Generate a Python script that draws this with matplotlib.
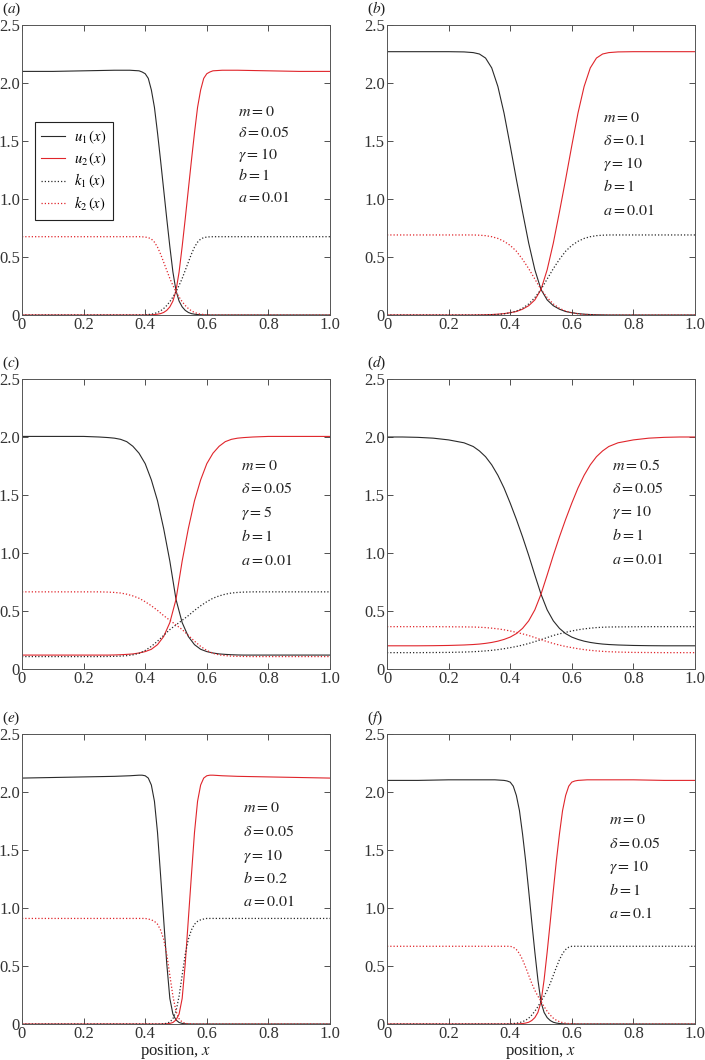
import matplotlib
matplotlib.use("Agg")
import matplotlib.pyplot as plt

plt.rcParams['font.family'] = ['Liberation Serif', 'DejaVu Serif']
plt.rcParams['mathtext.fontset'] = 'stix'

# x grids (steep panels a, e, f and gentle panels b, c, d)
xs = [0, 0.1, 0.2, 0.3, 0.35, 0.38, 0.39, 0.40, 0.41, 0.42, 0.43, 0.44, 0.45, 0.46, 0.47, 0.48,
      0.49, 0.50, 0.51, 0.52, 0.53, 0.54, 0.55, 0.56, 0.57, 0.58, 0.59, 0.60, 0.61, 0.62, 0.65,
      0.7, 0.8, 0.9, 1.0]
xg = [0, 0.05, 0.1, 0.15, 0.2, 0.25, 0.28, 0.30, 0.32, 0.34, 0.36, 0.38, 0.40, 0.42, 0.44, 0.46,
      0.48, 0.50, 0.52, 0.54, 0.56, 0.58, 0.60, 0.62, 0.64, 0.66, 0.68, 0.70, 0.72, 0.75, 0.8,
      0.85, 0.9, 0.95, 1.0]

# panel (a)
u1_a = [2.10, 2.10, 2.105, 2.11, 2.11, 2.105, 2.095, 2.08, 2.04, 1.94, 1.79, 1.57, 1.33, 1.08,
        0.83, 0.59, 0.37, 0.21, 0.12, 0.07, 0.04, 0.022, 0.012, 0.007, 0.004, 0.002, 0.001,
        0, 0, 0, 0, 0, 0, 0, 0]
u2_a = [0, 0, 0, 0, 0, 0, 0, 0, 0.001, 0.002, 0.004, 0.007, 0.012, 0.022, 0.04, 0.07, 0.12,
        0.21, 0.37, 0.59, 0.83, 1.08, 1.33, 1.57, 1.79, 1.94, 2.04, 2.08, 2.095, 2.105, 2.11,
        2.11, 2.105, 2.10, 2.10]
k1_a = [0, 0, 0, 0, 0, 0, 0.001, 0.002, 0.004, 0.007, 0.013, 0.022, 0.036, 0.056, 0.082, 0.115,
        0.155, 0.20, 0.255, 0.315, 0.385, 0.455, 0.525, 0.585, 0.628, 0.655, 0.667, 0.672,
        0.674, 0.675, 0.675, 0.675, 0.675, 0.675, 0.675]
k2_a = [0.675, 0.675, 0.675, 0.675, 0.675, 0.675, 0.674, 0.672, 0.667, 0.655, 0.628, 0.585,
        0.525, 0.455, 0.385, 0.315, 0.255, 0.20, 0.155, 0.115, 0.082, 0.056, 0.036, 0.022,
        0.013, 0.007, 0.004, 0.002, 0.001, 0, 0, 0, 0, 0, 0]

# panel (b)
u1_b = [2.27, 2.27, 2.27, 2.27, 2.27, 2.268, 2.262, 2.25, 2.215, 2.13, 1.97, 1.74, 1.46, 1.17,
        0.89, 0.62, 0.39, 0.22, 0.13, 0.08, 0.05, 0.03, 0.02, 0.012, 0.007, 0.004, 0.002,
        0.001, 0, 0, 0, 0, 0, 0, 0]
u2_b = [0, 0, 0, 0, 0, 0, 0, 0.001, 0.002, 0.004, 0.007, 0.012, 0.02, 0.03, 0.05, 0.08, 0.13,
        0.22, 0.39, 0.62, 0.89, 1.17, 1.46, 1.74, 1.97, 2.13, 2.215, 2.25, 2.262, 2.268, 2.27,
        2.27, 2.27, 2.27, 2.27]
k1_b = [0, 0, 0, 0, 0, 0, 0, 0, 0.001, 0.003, 0.005, 0.01, 0.019, 0.034, 0.058, 0.095, 0.15,
        0.22, 0.31, 0.40, 0.48, 0.55, 0.60, 0.635, 0.66, 0.675, 0.684, 0.688, 0.69, 0.69,
        0.69, 0.69, 0.69, 0.69, 0.69]
k2_b = [0.69, 0.69, 0.69, 0.69, 0.69, 0.69, 0.69, 0.688, 0.684, 0.675, 0.66, 0.635, 0.60, 0.55,
        0.48, 0.40, 0.31, 0.22, 0.15, 0.095, 0.058, 0.034, 0.019, 0.01, 0.005, 0.003, 0.001,
        0, 0, 0, 0, 0, 0, 0, 0]

# panel (c)
u1_c = [2.005, 2.005, 2.005, 2.005, 2.005, 2.0, 1.995, 1.99, 1.98, 1.96, 1.92, 1.86, 1.77,
        1.63, 1.45, 1.21, 0.93, 0.60, 0.40, 0.28, 0.21, 0.17, 0.15, 0.138, 0.13, 0.126, 0.123,
        0.121, 0.12, 0.12, 0.12, 0.12, 0.12, 0.12, 0.12]
u2_c = [0.12, 0.12, 0.12, 0.12, 0.12, 0.12, 0.12, 0.121, 0.123, 0.126, 0.13, 0.138, 0.15, 0.17,
        0.21, 0.28, 0.40, 0.60, 0.93, 1.21, 1.45, 1.63, 1.77, 1.86, 1.92, 1.96, 1.98, 1.99,
        1.995, 2.0, 2.005, 2.005, 2.005, 2.005, 2.005]
k1_c = [0.107, 0.107, 0.107, 0.107, 0.107, 0.107, 0.108, 0.109, 0.111, 0.115, 0.122, 0.135,
        0.16, 0.195, 0.24, 0.29, 0.34, 0.38, 0.42, 0.46, 0.505, 0.545, 0.58, 0.61, 0.63,
        0.645, 0.655, 0.66, 0.663, 0.665, 0.665, 0.665, 0.665, 0.665, 0.665]
k2_c = [0.665, 0.665, 0.665, 0.665, 0.665, 0.665, 0.663, 0.66, 0.655, 0.645, 0.63, 0.61, 0.58,
        0.545, 0.505, 0.46, 0.42, 0.38, 0.34, 0.29, 0.24, 0.195, 0.16, 0.135, 0.122, 0.115,
        0.111, 0.109, 0.108, 0.107, 0.107, 0.107, 0.107, 0.107, 0.107]

# panel (d)
u1_d = [2.0, 2.0, 1.997, 1.99, 1.975, 1.95, 1.918, 1.88, 1.83, 1.76, 1.67, 1.56, 1.43, 1.29,
        1.14, 0.98, 0.81, 0.645, 0.51, 0.415, 0.35, 0.305, 0.275, 0.255, 0.24, 0.229, 0.221,
        0.215, 0.211, 0.207, 0.203, 0.201, 0.2, 0.2, 0.2]
u2_d = [0.2, 0.2, 0.2, 0.201, 0.203, 0.207, 0.211, 0.215, 0.221, 0.229, 0.24, 0.255, 0.275,
        0.305, 0.35, 0.415, 0.51, 0.645, 0.81, 0.98, 1.14, 1.29, 1.43, 1.56, 1.67, 1.76, 1.83,
        1.88, 1.918, 1.95, 1.975, 1.99, 1.997, 2.0, 2.0]
k1_d = [0.141, 0.141, 0.141, 0.142, 0.143, 0.146, 0.149, 0.152, 0.156, 0.161, 0.167, 0.175,
        0.184, 0.194, 0.206, 0.22, 0.236, 0.253, 0.271, 0.289, 0.303, 0.316, 0.328, 0.338,
        0.346, 0.352, 0.357, 0.36, 0.362, 0.363, 0.364, 0.365, 0.365, 0.365, 0.365]
k2_d = [0.365, 0.365, 0.365, 0.365, 0.364, 0.363, 0.362, 0.36, 0.357, 0.352, 0.346, 0.338,
        0.328, 0.316, 0.303, 0.289, 0.271, 0.253, 0.236, 0.22, 0.206, 0.194, 0.184, 0.175,
        0.167, 0.161, 0.156, 0.152, 0.149, 0.146, 0.143, 0.142, 0.141, 0.141, 0.141]

# panel (e)
u1_e = [2.12, 2.125, 2.13, 2.135, 2.14, 2.145, 2.145, 2.14, 2.12, 2.06, 1.92, 1.65, 1.28, 0.90,
        0.52, 0.22, 0.085, 0.035, 0.013, 0.005, 0.002, 0.001, 0, 0, 0, 0, 0, 0, 0, 0, 0, 0,
        0, 0, 0]
u2_e = [0, 0, 0, 0, 0, 0, 0, 0, 0, 0, 0, 0, 0, 0.001, 0.002, 0.005, 0.013, 0.035, 0.085, 0.22,
        0.52, 0.90, 1.28, 1.65, 1.92, 2.06, 2.12, 2.14, 2.145, 2.145, 2.14, 2.135, 2.13,
        2.125, 2.12]
k1_e = [0, 0, 0, 0, 0, 0, 0, 0, 0, 0, 0, 0, 0.001, 0.002, 0.006, 0.017, 0.045, 0.11, 0.24,
        0.42, 0.60, 0.73, 0.81, 0.86, 0.885, 0.898, 0.905, 0.91, 0.91, 0.91, 0.91, 0.91, 0.91,
        0.91, 0.91]
k2_e = [0.91, 0.91, 0.91, 0.91, 0.91, 0.91, 0.91, 0.91, 0.905, 0.898, 0.885, 0.86, 0.81, 0.73,
        0.60, 0.42, 0.24, 0.11, 0.045, 0.017, 0.006, 0.002, 0.001, 0, 0, 0, 0, 0, 0, 0, 0, 0,
        0, 0, 0]

# panel (f)
u1_f = [2.10, 2.10, 2.105, 2.105, 2.105, 2.10, 2.095, 2.085, 2.05, 1.97, 1.84, 1.64, 1.41,
        1.15, 0.88, 0.62, 0.38, 0.19, 0.10, 0.055, 0.03, 0.015, 0.008, 0.004, 0.002, 0.001,
        0, 0, 0, 0, 0, 0, 0, 0, 0]
u2_f = [0, 0, 0, 0, 0, 0, 0, 0, 0, 0.001, 0.002, 0.004, 0.008, 0.015, 0.03, 0.055, 0.10, 0.19,
        0.38, 0.62, 0.88, 1.15, 1.41, 1.64, 1.84, 1.97, 2.05, 2.085, 2.095, 2.10, 2.105, 2.105,
        2.105, 2.10, 2.10]
k1_f = [0, 0, 0, 0, 0, 0, 0.001, 0.002, 0.004, 0.007, 0.012, 0.02, 0.032, 0.05, 0.077, 0.11,
        0.15, 0.195, 0.24, 0.29, 0.35, 0.42, 0.49, 0.555, 0.607, 0.642, 0.662, 0.67, 0.67,
        0.67, 0.67, 0.67, 0.67, 0.67, 0.67]
k2_f = [0.67, 0.67, 0.67, 0.67, 0.67, 0.67, 0.67, 0.67, 0.662, 0.642, 0.607, 0.555, 0.49, 0.42,
        0.35, 0.29, 0.24, 0.195, 0.15, 0.11, 0.077, 0.05, 0.032, 0.02, 0.012, 0.007, 0.004,
        0.002, 0.001, 0, 0, 0, 0, 0, 0]

labels = ['a', 'b', 'c', 'd', 'e', 'f']
params = [
    ['m=0', r'\delta=0.05', r'\gamma=10', 'b=1', 'a=0.01'],
    ['m=0', r'\delta=0.1', r'\gamma=10', 'b=1', 'a=0.01'],
    ['m=0', r'\delta=0.05', r'\gamma=5', 'b=1', 'a=0.01'],
    ['m=0.5', r'\delta=0.05', r'\gamma=10', 'b=1', 'a=0.01'],
    ['m=0', r'\delta=0.05', r'\gamma=10', 'b=0.2', 'a=0.01'],
    ['m=0', r'\delta=0.05', r'\gamma=10', 'b=1', 'a=0.1'],
]
panels = [
    (xs, u1_a, u2_a, k1_a, k2_a),
    (xg, u1_b, u2_b, k1_b, k2_b),
    (xg, u1_c, u2_c, k1_c, k2_c),
    (xg, u1_d, u2_d, k1_d, k2_d),
    (xs, u1_e, u2_e, k1_e, k2_e),
    (xs, u1_f, u2_f, k1_f, k2_f),
]
# where the parameter block sits in each panel (data coords)
text_x = [0.70, 0.70, 0.71, 0.73, 0.717, 0.72]
text_y = [[1.75, 1.565, 1.38, 1.195, 1.01],
          [1.70, 1.50, 1.30, 1.10, 0.90],
          [1.75, 1.55, 1.345, 1.135, 0.93],
          [1.75, 1.555, 1.355, 1.145, 0.94],
          [1.86, 1.655, 1.45, 1.25, 1.05],
          [1.76, 1.555, 1.35, 1.145, 0.945]]

BLACK = '#2a2a2a'
RED = '#e0252b'
DOT = (0, (1, 1.6))

W, H = 705, 1060
fig = plt.figure(figsize=(W / 100, H / 100), dpi=100)

lefts = [22, 387]
tops = [25, 379, 734]
aw, ah = 308, 290

for i, (x, u1, u2, k1, k2) in enumerate(panels):
    col, row = i % 2, i // 2
    l, t = lefts[col], tops[row]
    ax = fig.add_axes([l / W, 1 - (t + ah) / H, aw / W, ah / H])
    ax.plot(x, u1, color=BLACK, lw=0.8, label=r'$u_1\,(x)$')
    ax.plot(x, u2, color=RED, lw=0.8, label=r'$u_2\,(x)$')
    ax.plot(x, k1, color=BLACK, lw=0.9, ls=DOT, label=r'$k_1\,(x)$')
    ax.plot(x, k2, color=RED, lw=0.9, ls=DOT, label=r'$k_2\,(x)$')
    ax.set_xlim(0, 1)
    ax.set_ylim(0, 2.5)
    ax.set_xticks([0, 0.2, 0.4, 0.6, 0.8, 1.0])
    ax.set_xticklabels(['0', '0.2', '0.4', '0.6', '0.8', '1.0'])
    ax.set_yticks([0, 0.5, 1.0, 1.5, 2.0, 2.5])
    ax.set_yticklabels(['0', '0.5', '1.0', '1.5', '2.0', '2.5'])
    ax.tick_params(direction='in', top=True, right=True, length=4, width=0.6,
                   labelsize=12, pad=1.5, colors='#333333')
    for s in ax.spines.values():
        s.set_color('#555555')
        s.set_linewidth(0.7)
    for txt, yy in zip(params[i], text_y[i]):
        ax.text(text_x[i], yy, '$' + txt + '$', fontsize=11.5, va='center', ha='left',
                color='#222222')
    fig.text((l - 20) / W, 1 - (t - 16) / H, '(' + '$' + labels[i] + '$' + ')',
             fontsize=11, va='center', ha='left', color='#222222')
    if row == 2:
        ax.set_xlabel('position, $x$', fontsize=12, labelpad=0, color='#222222')
    if i == 0:
        leg = ax.legend(loc='upper left', bbox_to_anchor=(0.042, 0.666), borderaxespad=0,
                        fontsize=10.5, handlelength=1.6, handletextpad=0.6, labelspacing=0.3,
                        borderpad=0.45, fancybox=False, framealpha=1)
        leg.get_frame().set_edgecolor('#222222')
        leg.get_frame().set_linewidth(0.8)

fig.savefig('out.png', dpi=100)
